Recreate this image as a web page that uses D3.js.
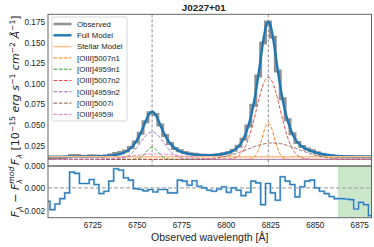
<!DOCTYPE html>
<html><head><meta charset="utf-8">
<script src="https://cdn.jsdelivr.net/npm/d3@7"></script>
<style>
body{margin:0;background:#fff}
svg{display:block}
text{font-family:"Liberation Sans",Arial,sans-serif;fill:#222}
</style>
</head><body>
<svg id="c" width="374" height="247"></svg>
<script>
// ---------------- data ----------------
const title = "J0227+01";
const wavelength = [6699.85,6702.60,6705.35,6708.11,6710.86,6713.61,6716.36,6719.12,6721.87,6724.62,
6727.38,6730.13,6732.88,6735.63,6738.39,6741.14,6743.89,6746.64,6749.40,6752.15,
6754.90,6757.66,6760.41,6763.16,6765.91,6768.67,6771.42,6774.17,6776.93,6779.68,
6782.43,6785.18,6787.94,6790.69,6793.44,6796.20,6798.95,6801.70,6804.45,6807.21,
6809.96,6812.71,6815.46,6818.22,6820.97,6823.72,6826.48,6829.23,6831.98,6834.73,
6837.49,6840.24,6842.99,6845.75,6848.50,6851.25,6854.00,6856.76,6859.51,6862.26,
6865.02,6867.77,6870.52,6873.27,6876.03,6878.78,6881.53];
const observedFlux = [0.0101,0.0094,0.0099,0.0104,0.0109,0.0127,0.0126,0.0118,0.0118,0.0123,
0.0120,0.0115,0.0120,0.0133,0.0152,0.0164,0.0183,0.0226,0.0291,0.0397,
0.0536,0.0647,0.0624,0.0499,0.0370,0.0274,0.0212,0.0186,0.0164,0.0148,
0.0144,0.0135,0.0131,0.0129,0.0131,0.0138,0.0150,0.0161,0.0191,0.0239,
0.0325,0.0485,0.0739,0.1092,0.1493,0.1748,0.1564,0.1153,0.0816,0.0562,
0.0393,0.0284,0.0236,0.0207,0.0184,0.0160,0.0143,0.0131,0.0122,0.0116,
0.0114,0.0112,0.0112,0.0110,0.0111,0.0110,0.0108];
const residual = [-0.00116,-0.00188,-0.00139,-0.00093,-0.00043,0.00136,0.00125,0.00038,0.00038,0.00072,
0.00029,-0.00049,-0.00029,0.00058,0.00165,0.00154,0.00087,0.00067,-0.00006,-0.00014,
-0.00026,-0.00014,-0.00035,-0.00014,-0.00014,-0.00043,-0.00043,0.00067,0.00058,0.00023,
0.00061,0.00014,0.0,-0.0002,-0.00029,-0.0001,0.0001,-0.00038,0.0,-0.0002,
-0.00067,-0.00038,0.00058,0.00043,-0.00145,0.00038,-0.00043,-0.00107,0.00096,0.00058,
0.00029,-0.00078,0.0001,0.00058,0.00067,0.0,-0.00029,-0.0005,-0.00075,-0.00093,
-0.00093,-0.00096,-0.00101,-0.00183,-0.00125,-0.00145,-0.0024];
const stellarWave = [6700.1, 6881.9];
const stellarFlux = [0.0113, 0.0113];
const componentNames = ["[OIII]5007n1","[OIII]4959n1","[OIII]5007n2","[OIII]4959n2","[OIII]5007i","[OIII]4959i"];
const componentCenters = [6823.9, 6758.6, 6823.9, 6758.6, 6826.5, 6761.2];
const componentAmps = [0.044, 0.0147, 0.0996, 0.0332, 0.020, 0.0067];
const componentSigmas = [3.4, 3.37, 6.7, 6.64, 14.5, 14.4];
const componentOffset = 0.008;
const lineMarkers = [6758.6, 6823.9];
const maskRange = [6863, 6881.9];
const xTicks = [6725, 6750, 6775, 6800, 6825, 6850, 6875];
const yTopTicks = [0, 0.025, 0.05, 0.075, 0.1, 0.125, 0.15, 0.175];
const yBotTicks = [-0.002, 0.0];

// ---------------- styles ----------------
const compColors = ["#ff7f0e","#2ca02c","#e8494a","#9467bd","#8c564b","#e377c2"];
const L = 48, R = 371.5, T1 = 14.3, B1 = 166, T2 = 166, B2 = 217.7;
const MATH = "'DejaVu Sans',sans-serif";

const svg = d3.select("#c");
const x = d3.scaleLinear().domain([6700.1, 6881.9]).range([L, R]);
const yT = d3.scaleLinear().domain([0, 0.1842]).range([B1, T1]);
const yB = d3.scaleLinear().domain([-0.002575, 0.00189]).range([B2, T2]);

const defs = svg.append("defs");
defs.append("clipPath").attr("id","clipT").append("rect").attr("x",L).attr("y",T1).attr("width",R-L).attr("height",B1-T1);
defs.append("clipPath").attr("id","clipB").append("rect").attr("x",L).attr("y",T2).attr("width",R-L).attr("height",B2-T2);

// model grid for smooth curves
const grid = d3.range(6700, 6882.01, 0.25);
const gauss = (w, i) => componentAmps[i] * Math.exp(-((w - componentCenters[i]) ** 2) / (2 * componentSigmas[i] ** 2));
const stellarAt = d3.scaleLinear().domain(stellarWave).range(stellarFlux);

const gT = svg.append("g").attr("clip-path","url(#clipT)");
lineMarkers.forEach(w => {
  gT.append("line").attr("x1",x(w)).attr("x2",x(w)).attr("y1",T1).attr("y2",B1)
    .attr("stroke","#8a8a8a").attr("stroke-width",1).attr("stroke-dasharray","3,2");
});
gT.append("path").datum(wavelength.map((w,i)=>[w,observedFlux[i]]))
  .attr("d", d3.line().x(d=>x(d[0])).y(d=>yT(d[1])).curve(d3.curveStep))
  .attr("fill","none").attr("stroke","#777").attr("stroke-opacity",0.8).attr("stroke-width",3);
gT.append("path").datum(grid.map(w=>[w, stellarAt(w) + d3.sum(componentNames, (n,i)=>gauss(w,i))]))
  .attr("d", d3.line().x(d=>x(d[0])).y(d=>yT(d[1])))
  .attr("fill","none").attr("stroke","#1f77b4").attr("stroke-width",2.4);
gT.append("path").datum(stellarWave.map((w,i)=>[w,stellarFlux[i]]))
  .attr("d", d3.line().x(d=>x(d[0])).y(d=>yT(d[1])))
  .attr("fill","none").attr("stroke","#fdbf87").attr("stroke-width",1.5);
componentNames.forEach((n,i)=>{
  gT.append("path").datum(grid.map(w=>[w, componentOffset + gauss(w,i)]))
    .attr("d", d3.line().x(d=>x(d[0])).y(d=>yT(d[1])))
    .attr("fill","none").attr("stroke",compColors[i]).attr("stroke-width",1)
    .attr("stroke-dasharray","3.7,1.6");
});

// bottom panel
const gB = svg.append("g").attr("clip-path","url(#clipB)");
gB.append("rect").attr("x",x(maskRange[0])).attr("y",T2).attr("width",x(maskRange[1])-x(maskRange[0])).attr("height",B2-T2)
  .attr("fill","#2ca02c").attr("fill-opacity",0.25);
gB.append("line").attr("x1",L).attr("x2",R).attr("y1",yB(0)).attr("y2",yB(0))
  .attr("stroke","#aaa").attr("stroke-width",1.3).attr("stroke-dasharray","4,2");
gB.append("path").datum(wavelength.map((w,i)=>[w,residual[i]]))
  .attr("d", d3.line().x(d=>x(d[0])).y(d=>yB(d[1])).curve(d3.curveStep))
  .attr("fill","none").attr("stroke","#9cc6e6").attr("stroke-width",2.2);
gB.append("path").datum(wavelength.map((w,i)=>[w,residual[i]]))
  .attr("d", d3.line().x(d=>x(d[0])).y(d=>yB(d[1])).curve(d3.curveStep))
  .attr("fill","none").attr("stroke","#2a7ab8").attr("stroke-width",1.1);

[[T1,B1],[T2,B2]].forEach(([t,b])=>{
  svg.append("rect").attr("x",L).attr("y",t).attr("width",R-L).attr("height",b-t)
    .attr("fill","none").attr("stroke","#666").attr("stroke-width",1);
});

// axes
const fmt = d3.format(".3f");
function styleAxis(g){
  g.select(".domain").remove();
  g.selectAll("text").style("font-size","8.2px").style("font-family","'Liberation Sans',Arial,sans-serif").attr("fill","#222");
}
svg.append("g").attr("transform",`translate(0,${B2})`)
  .call(d3.axisBottom(x).tickValues(xTicks).tickSize(0).tickPadding(4).tickFormat(d3.format("d"))).call(styleAxis);
svg.append("g").attr("transform",`translate(${L},0)`)
  .call(d3.axisLeft(yT).tickValues(yTopTicks).tickSize(0).tickPadding(3).tickFormat(fmt)).call(styleAxis);
svg.append("g").attr("transform",`translate(${L},0)`)
  .call(d3.axisLeft(yB).tickValues(yBotTicks).tickSize(0).tickPadding(3).tickFormat(fmt)).call(styleAxis);

// title
svg.append("text").attr("x",203.8).attr("y",10.5).attr("text-anchor","middle")
  .style("font-size","9.8px").style("font-weight","bold").text(title);

// x label
svg.append("text").attr("x",(L+R)/2).attr("y",240.5).attr("text-anchor","middle")
  .style("font-size","10.5px").text("Observed wavelength [Å]");

// y label top
const yl = svg.append("text").attr("transform",`translate(19,${(T1+B1)/2}) rotate(-90)`)
  .attr("text-anchor","middle").style("font-size","11px").style("font-family",MATH);
yl.append("tspan").attr("font-style","italic").text("F");
yl.append("tspan").attr("font-style","italic").style("font-size","7.7px").attr("dy",2.5).text("λ");
yl.append("tspan").attr("dy",-2.5).text(" [10");
yl.append("tspan").style("font-size","7.7px").attr("dy",-4.5).text("−15");
yl.append("tspan").attr("dy",4.5).attr("font-style","italic").text(" erg s");
yl.append("tspan").style("font-size","7.7px").attr("dy",-4.5).text("−1");
yl.append("tspan").attr("dy",4.5).attr("font-style","italic").text(" cm");
yl.append("tspan").style("font-size","7.7px").attr("dy",-4.5).text("−2");
yl.append("tspan").attr("dy",4.5).attr("font-style","italic").text(" Å");
yl.append("tspan").style("font-size","7.7px").attr("dy",-4.5).text("−1");
yl.append("tspan").attr("dy",4.5).text("]");

// y label bottom
const yl2 = svg.append("text").attr("transform",`translate(19,${(T2+B2)/2}) rotate(-90)`)
  .attr("text-anchor","middle").style("font-size","11px").style("font-family",MATH);
yl2.append("tspan").attr("font-style","italic").text("F");
yl2.append("tspan").attr("font-style","italic").style("font-size","7.7px").attr("dy",2.5).text("λ");
yl2.append("tspan").attr("dy",-2.5).text(" − ");
yl2.append("tspan").attr("font-style","italic").text("F");
yl2.append("tspan").attr("font-style","italic").style("font-size","7.7px").attr("dy",2.5).text("λ");
yl2.append("tspan").attr("font-style","italic").style("font-size","7.7px").attr("dx",-4.5).attr("dy",-7.5).text("mod");

// legend
const legNames = ["Observed","Full Model","Stellar Model"].concat(componentNames);
const legStyles = [
  {c:"#777",w:2.6,o:0.8,d:null},
  {c:"#1f77b4",w:2.4,o:1,d:null},
  {c:"#fdbf87",w:1.5,o:1,d:null}
].concat(compColors.map(c=>({c:c,w:1,o:1,d:"3.7,1.6"})));
const lg = svg.append("g");
lg.append("rect").attr("x",52).attr("y",17).attr("width",75).attr("height",104).attr("rx",2)
  .attr("fill","#fff").attr("fill-opacity",0.8).attr("stroke","#cccccc").attr("stroke-width",0.8);
legNames.forEach((n,i)=>{
  const yy = 24 + i*11.3;
  const s = legStyles[i];
  const ln = lg.append("line").attr("x1",53.5).attr("x2",71.5).attr("y1",yy).attr("y2",yy)
    .attr("stroke",s.c).attr("stroke-width",s.w).attr("stroke-opacity",s.o);
  if (s.d) ln.attr("stroke-dasharray",s.d);
  lg.append("text").attr("x",77).attr("y",yy+2.8).style("font-size","7.8px").text(n);
});
</script>
</body></html>
